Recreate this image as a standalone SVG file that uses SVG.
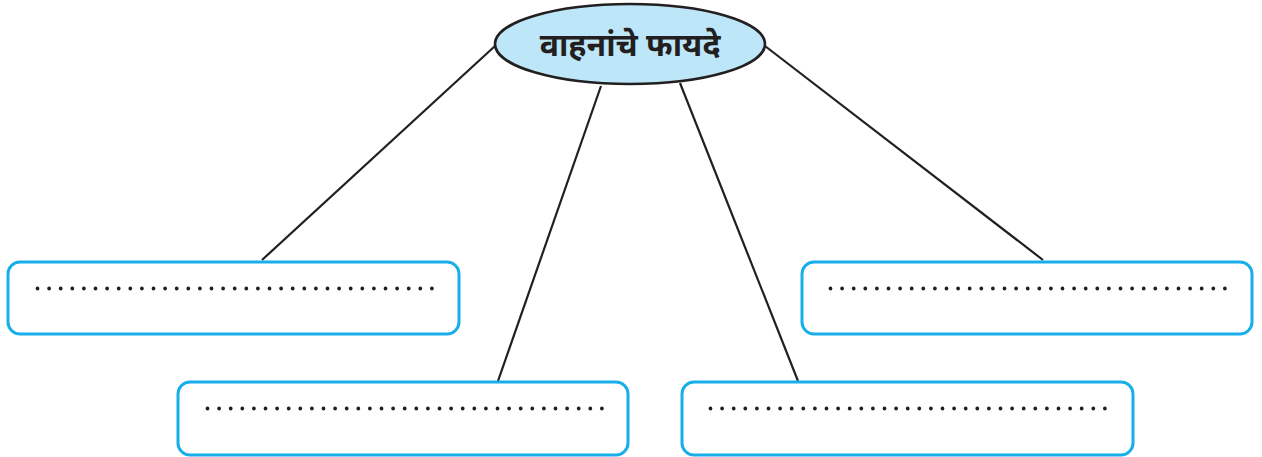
<svg xmlns="http://www.w3.org/2000/svg" width="1262" height="457" viewBox="0 0 1262 457">
<style>
.box{fill:#fff;stroke:#17aeea;stroke-width:3}
.dots{stroke:#231f20;stroke-width:3.8;stroke-linecap:round;stroke-dasharray:0 11.6;fill:none}
.conn{stroke:#231f20;stroke-width:2.2;fill:none}
.title{font-family:"Noto Sans","Noto Sans Devanagari","Lohit Devanagari",sans-serif;font-size:32px;font-weight:bold;fill:#231f20;text-anchor:middle}
</style>
<rect width="1262" height="457" fill="#fff"/>
<g id="connectors">
<line class="conn" x1="495" y1="46" x2="262" y2="260"/>
<line class="conn" x1="601" y1="86" x2="498" y2="381"/>
<line class="conn" x1="680" y1="83" x2="798" y2="381"/>
<line class="conn" x1="765" y1="46" x2="1043" y2="260"/>
</g>
<g id="center">
<ellipse cx="630" cy="44" rx="135" ry="40" fill="#bde6f8" stroke="#231f20" stroke-width="2.6"/>
<text class="title" x="630" y="56">वाहनांचे फायदे</text>
</g>
<g id="box1">
<rect class="box" x="8" y="262" width="451" height="72" rx="12"/>
<line class="dots" x1="37.5" y1="288.5" x2="433" y2="288.5"/>
</g>
<g id="box2">
<rect class="box" x="178" y="382" width="450" height="73" rx="12"/>
<line class="dots" x1="207.5" y1="408.5" x2="603" y2="408.5"/>
</g>
<g id="box3">
<rect class="box" x="682" y="382" width="451" height="73" rx="12"/>
<line class="dots" x1="710.5" y1="408.5" x2="1106" y2="408.5"/>
</g>
<g id="box4">
<rect class="box" x="802" y="262" width="450" height="72" rx="12"/>
<line class="dots" x1="830.5" y1="288.5" x2="1226" y2="288.5"/>
</g>
</svg>
